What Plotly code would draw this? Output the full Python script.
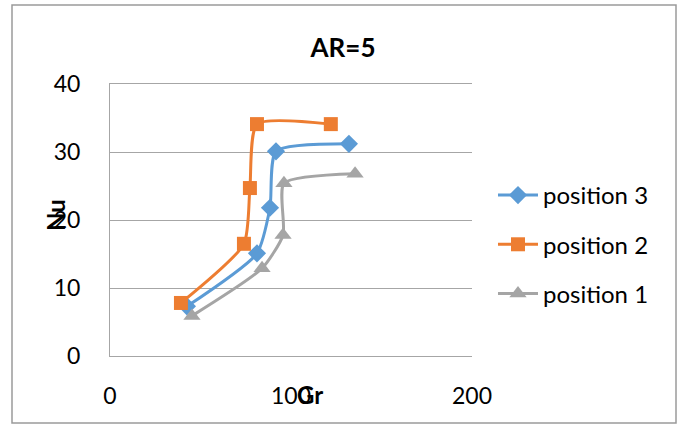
import plotly.graph_objects as go

# Nusselt number vs Grashof number, AR = 5
gr_pos3 = [42.5, 81.2, 88.4, 91.7, 132]
nu_pos3 = [7.3, 15.1, 21.8, 30.1, 31.2]

gr_pos2 = [39.2, 74, 77.3, 81.2, 122]
nu_pos2 = [7.8, 16.5, 24.7, 34.1, 34.1]

gr_pos1 = [45.3, 84, 95.6, 96.1, 135.4]
nu_pos1 = [5.9, 12.9, 17.8, 25.4, 26.8]

x_ticks = [0, 100, 200]
y_ticks = [0, 10, 20, 30, 40]

FONT = "Lato, Carlito, 'Liberation Sans', sans-serif"

# plot-area geometry in pixels
L, R, T, B = 110, 472, 84, 356
W, H = 683, 426
PW, PH = R - L, B - T

series = [
    ("position 3", gr_pos3, nu_pos3, "#5b9bd5", "diamond", 14),
    ("position 2", gr_pos2, nu_pos2, "#ed7d31", "square", 14),
    ("position 1", gr_pos1, nu_pos1, "#a5a5a5", "triangle-up", 15),
]

fig = go.Figure()
for name, xs, ys, color, sym, size in series:
    fig.add_trace(go.Scatter(
        x=xs, y=ys, name=name, legendgroup=name, mode="lines+markers",
        line=dict(color=color, width=3, shape="spline", smoothing=0.6),
        marker=dict(symbol=sym, size=size, color=color),
    ))

fig.update_layout(
    width=W, height=H,
    margin=dict(l=L, r=W - R, t=T, b=H - B),
    paper_bgcolor="white", plot_bgcolor="white",
    font=dict(family=FONT, size=23, color="#000000"),
    title=dict(text="<b>AR=5</b>", x=343 / W, xanchor="center", y=1 - 48 / H, yanchor="middle",
               font=dict(family=FONT, size=26, color="#000000")),
    xaxis=dict(range=[0, 200], tickvals=x_ticks, showgrid=False, zeroline=False,
               showline=True, linecolor="#a6a6a6", linewidth=1, mirror=True,
               ticks="", ticklabelstandoff=19),
    yaxis=dict(range=[0, 40], tickvals=y_ticks, showgrid=True, gridcolor="#a6a6a6",
               gridwidth=1, zeroline=False, showline=True, linecolor="#a6a6a6",
               linewidth=1, ticks="", ticklabelstandoff=24),
    legend=dict(x=1.058, xanchor="left", y=0.41, yanchor="middle",
                font=dict(family=FONT, size=24), tracegroupgap=15,
                itemwidth=40, bgcolor="rgba(0,0,0,0)"),
    showlegend=True,
)

# axis titles placed over the tick labels
fig.add_annotation(text="<b>Nu</b>", xref="paper", yref="paper",
                   x=(55 - L) / PW, y=(B - 215) / PH, xanchor="center", yanchor="middle",
                   textangle=-90, showarrow=False, font=dict(family=FONT, size=24))
fig.add_annotation(text="<b>Gr</b>", xref="paper", yref="paper",
                   x=(310 - L) / PW, y=(B - 394) / PH, xanchor="center", yanchor="middle",
                   showarrow=False, font=dict(family=FONT, size=24))

# outer chart border
fig.add_shape(type="rect", xref="paper", yref="paper",
              x0=(12 - L) / PW, x1=(676 - L) / PW, y0=(B - 423) / PH, y1=(B - 5) / PH,
              line=dict(color="#9a9a9a", width=1.5))

fig.write_html("out.html")
